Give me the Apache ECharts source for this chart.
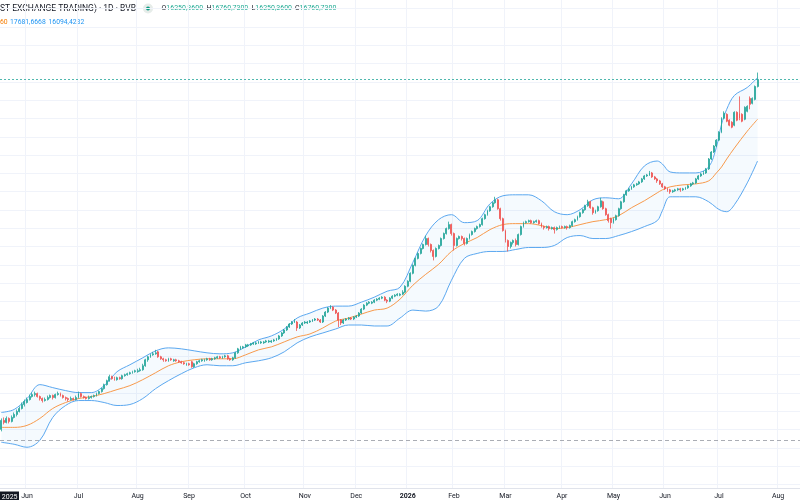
<!DOCTYPE html>
<html><head><meta charset="utf-8">
<script src="https://cdn.jsdelivr.net/npm/echarts@6/dist/echarts.min.js"></script>
<style>html,body{margin:0;padding:0;background:#fff}#c{width:800px;height:500px}</style>
</head><body><div id="c"></div>
<script>
// ---- categories (trading days, BVB) ----
const startDate = [2025, 4, 19];
const categoryCount = 311;
const holidays = ['2025-06-09','2025-08-15','2025-12-01','2025-12-25','2025-12-26','2026-01-01','2026-01-02','2026-01-06','2026-01-07','2026-04-10','2026-04-13','2026-05-01','2026-06-01'];
const monthNames = ['Jan','Feb','Mar','Apr','May','Jun','Jul','Aug','Sep','Oct','Nov','Dec'];

// ---- OHLC values ----
const openVals = [13240,13330,13310,13350,13320,13360,13390,13420,13450,13490,
13510,13540,13570,13590,13600,13570,13550,13530,13540,13560,
13580,13560,13590,13600,13580,13560,13550,13540,13550,13540,
13560,13600,13570,13560,13550,13560,13570,13580,13600,13620,
13650,13690,13730,13770,13750,13740,13760,13750,13780,13790,
13800,13810,13820,13820,13830,13840,13880,13940,13970,13990,
14000,14020,13970,13950,13940,13930,13950,13930,13940,13930,
13920,13910,13890,13900,13920,13870,13900,13920,13930,13930,
13940,13950,13940,13950,13960,13970,13960,13970,13980,13950,
13940,13960,14010,14050,14060,14070,14080,14090,14100,14100,
14110,14110,14110,14120,14120,14120,14130,14140,14150,14180,
14210,14240,14270,14300,14320,14320,14260,14290,14310,14310,
14320,14330,14340,14350,14340,14320,14380,14420,14460,14470,
14440,14410,14340,14310,14340,14350,14360,14350,14370,14380,
14410,14450,14490,14510,14510,14520,14540,14550,14560,14570,
14540,14530,14560,14580,14590,14590,14600,14620,14680,14730,
14810,14890,14960,15010,15060,15100,15160,15100,15040,14980,
15060,15090,15160,15210,15260,15300,15210,15090,15160,15180,
15160,15110,15160,15200,15230,15260,15280,15300,15360,15400,
15440,15480,15520,15550,15460,15360,15240,15140,15080,15120,
15140,15100,15200,15280,15320,15330,15340,15320,15330,15340,
15310,15280,15270,15280,15260,15270,15250,15270,15280,15270,
15280,15270,15290,15330,15350,15380,15420,15450,15490,15530,
15470,15420,15440,15480,15530,15460,15400,15360,15320,15350,
15390,15460,15530,15600,15640,15660,15680,15700,15710,15730,
15760,15790,15800,15820,15780,15760,15740,15710,15680,15660,
15650,15630,15640,15650,15660,15650,15660,15670,15690,15710,
15720,15760,15790,15810,15820,15860,15960,16030,16090,16150,
16230,16370,16410,16350,16330,16300,16430,16420,16410,16360,
16440,16570,16520,16560,16690];
const closeVals = [13330,13310,13350,13320,13360,13390,13420,13450,13490,13520,
13540,13570,13590,13600,13570,13550,13530,13540,13560,13580,
13560,13590,13600,13580,13560,13550,13540,13550,13540,13560,
13600,13570,13560,13550,13560,13570,13580,13600,13620,13650,
13690,13730,13770,13750,13740,13760,13750,13780,13790,13800,
13810,13820,13830,13830,13840,13880,13940,13970,13990,14000,
14010,13970,13950,13940,13930,13950,13940,13940,13930,13920,
13910,13900,13900,13890,13870,13900,13920,13930,13940,13940,
13950,13940,13950,13960,13970,13960,13970,13980,13950,13940,
13960,14010,14050,14070,14070,14090,14090,14100,14110,14110,
14120,14120,14120,14130,14130,14130,14140,14150,14180,14210,
14240,14270,14300,14320,14330,14260,14290,14310,14320,14320,
14330,14340,14350,14340,14320,14380,14420,14460,14470,14440,
14410,14340,14310,14340,14350,14360,14350,14370,14380,14410,
14450,14490,14510,14520,14520,14540,14550,14560,14570,14540,
14530,14560,14580,14590,14600,14600,14620,14680,14730,14810,
14890,14960,15010,15060,15100,15160,15100,15040,14980,15060,
15090,15160,15210,15260,15300,15210,15090,15160,15180,15160,
15110,15160,15200,15230,15260,15280,15300,15360,15400,15440,
15480,15520,15550,15460,15360,15240,15140,15080,15120,15140,
15100,15200,15280,15320,15330,15340,15320,15330,15340,15310,
15280,15270,15280,15260,15270,15250,15270,15280,15270,15280,
15270,15290,15330,15350,15380,15420,15450,15490,15530,15470,
15420,15440,15480,15540,15460,15400,15340,15320,15360,15390,
15460,15530,15600,15640,15660,15680,15700,15710,15730,15760,
15790,15800,15820,15780,15760,15740,15710,15680,15660,15650,
15630,15640,15650,15660,15650,15660,15670,15690,15710,15720,
15760,15790,15810,15820,15860,15960,16030,16090,16150,16230,
16370,16420,16340,16300,16280,16430,16350,16370,16340,16480,
16490,16510,16570,16690,16760.73];
const lowVals = [13220,13290,13300,13300,13310,13350,13370,13410,13440,13470,
13500,13530,13560,13570,13560,13530,13510,13520,13530,13550,
13540,13550,13580,13570,13550,13530,13520,13530,13530,13530,
13550,13560,13550,13540,13540,13550,13560,13570,13590,13610,
13640,13680,13720,13740,13730,13730,13740,13740,13770,13780,
13790,13800,13810,13810,13820,13830,13870,13920,13960,13980,
13990,13960,13940,13920,13920,13920,13930,13920,13920,13910,
13900,13890,13880,13880,13860,13860,13890,13910,13920,13920,
13930,13930,13930,13940,13950,13950,13950,13960,13940,13930,
13930,13950,14000,14040,14050,14060,14070,14080,14090,14090,
14100,14100,14100,14110,14110,14110,14120,14130,14140,14170,
14200,14230,14260,14290,14310,14230,14250,14280,14300,14300,
14310,14320,14330,14330,14310,14310,14370,14410,14450,14430,
14400,14270,14290,14300,14330,14340,14340,14340,14360,14370,
14400,14440,14480,14500,14500,14510,14530,14540,14550,14530,
14510,14520,14550,14570,14580,14580,14590,14610,14670,14720,
14800,14880,14950,15000,15050,15090,15080,15020,14940,14970,
15050,15080,15150,15200,15250,15190,15040,15080,15150,15140,
15090,15100,15150,15190,15220,15250,15270,15290,15350,15390,
15430,15470,15510,15450,15340,15230,15120,15030,15060,15100,
15080,15090,15190,15270,15310,15320,15310,15310,15320,15300,
15270,15250,15260,15240,15250,15210,15240,15260,15260,15260,
15250,15260,15280,15320,15340,15370,15410,15440,15480,15460,
15400,15410,15430,15470,15450,15390,15320,15260,15310,15340,
15380,15450,15520,15590,15630,15650,15670,15690,15700,15720,
15750,15780,15790,15770,15750,15720,15700,15670,15650,15630,
15610,15620,15630,15640,15630,15640,15650,15660,15680,15700,
15710,15750,15780,15800,15810,15850,15950,16020,16080,16140,
16220,16360,16330,16290,16270,16290,16340,16350,16330,16350,
16430,16460,16510,16550,16680];
const highVals = [13350,13360,13370,13360,13380,13410,13440,13470,13510,13540,
13560,13590,13610,13620,13610,13580,13560,13560,13580,13590,
13590,13600,13620,13610,13590,13570,13560,13570,13560,13580,
13620,13610,13580,13570,13580,13580,13590,13610,13630,13660,
13700,13740,13790,13780,13770,13770,13770,13790,13800,13810,
13820,13830,13840,13850,13860,13900,13950,13980,14000,14020,
14040,14030,13980,13960,13950,13960,13960,13950,13950,13940,
13930,13920,13910,13910,13930,13910,13930,13940,13950,13950,
13960,13960,13960,13970,13980,13980,13980,13990,13990,13960,
13970,14020,14060,14080,14080,14100,14100,14110,14120,14120,
14130,14130,14130,14140,14140,14140,14150,14160,14190,14220,
14250,14280,14310,14330,14350,14330,14300,14320,14330,14330,
14340,14350,14360,14360,14350,14390,14430,14470,14490,14480,
14450,14420,14350,14350,14360,14370,14370,14380,14390,14420,
14460,14500,14520,14530,14530,14550,14560,14570,14580,14580,
14550,14570,14590,14600,14610,14610,14640,14690,14740,14820,
14900,14970,15020,15070,15110,15190,15170,15110,15050,15070,
15100,15170,15220,15270,15330,15310,15220,15170,15190,15190,
15170,15170,15210,15240,15270,15290,15310,15370,15410,15450,
15490,15530,15580,15560,15470,15370,15250,15150,15130,15150,
15160,15210,15290,15330,15340,15350,15350,15340,15350,15350,
15320,15290,15290,15290,15280,15280,15280,15290,15290,15290,
15290,15300,15340,15360,15390,15430,15460,15500,15550,15540,
15480,15450,15490,15570,15540,15470,15410,15370,15370,15400,
15470,15540,15610,15650,15670,15690,15710,15720,15740,15770,
15800,15810,15840,15830,15790,15770,15750,15720,15690,15670,
15660,15650,15660,15670,15670,15670,15680,15700,15720,15730,
15770,15800,15820,15840,15870,15970,16040,16100,16160,16240,
16380,16440,16420,16360,16340,16440,16440,16590,16420,16490,
16500,16590,16580,16700,16830];

// ---- Bollinger band readings (sampled at candle indices) ----
const bandIdx = [0,5,10,15,20,25,30,35,40,45,50,55,60,65,70,75,80,85,90,95,100,105,110,115,120,125,130,135,140,145,150,155,160,165,170,175,180,185,190,195,200,205,210,215,220,225,230,235,240,245,250,255,257,260,265,270,275,278,280,282,285,290,294];
const bandUpper = [13410,13440,13550,13690,13660,13630,13610,13610,13680,13820,13890,13960,14030,14060,14050,14030,14010,14000,14010,14070,14140,14180,14250,14360,14410,14460,14480,14480,14520,14570,14630,14670,14920,15190,15350,15400,15320,15340,15510,15590,15600,15600,15540,15430,15400,15450,15550,15570,15560,15710,15890,15940,15910,15830,15820,15820,15880,16080,16310,16460,16600,16680,16780];
const bandBasis = [13260,13260,13280,13350,13450,13510,13550,13570,13600,13640,13680,13740,13810,13880,13920,13940,13950,13950,13950,13990,14040,14070,14120,14170,14200,14260,14330,14360,14400,14440,14460,14550,14690,14800,14900,15030,15110,15170,15250,15300,15310,15310,15290,15260,15270,15300,15330,15350,15390,15470,15540,15620,15650,15680,15700,15710,15740,15820,15880,15960,16070,16240,16360];
const bandLower = [13110,13090,13060,13130,13360,13480,13530,13530,13510,13480,13490,13550,13650,13730,13800,13860,13890,13880,13880,13910,13930,13960,14020,14110,14170,14210,14250,14290,14290,14280,14280,14360,14440,14430,14480,14740,14960,15010,15030,15030,15050,15070,15070,15090,15170,15190,15160,15160,15190,15230,15280,15340,15440,15580,15580,15580,15530,15470,15440,15430,15500,15720,15940];

// ---- header texts ----
const titleText = 'ST EXCHANGE TRADING) · 1D · BVB';
const ohlcLabels = ['O','H','L','C'];
const ohlcTexts = ['16250,3600','16760,7300','16250,3600','16760,7300'];
const bbTexts = ['60','17681,6668','16094,4232'];
const lastPrice = 16760.73;
const refLine = 13130;

// ---- build categories ----
const dates = [];
(function(){
  const d = new Date(Date.UTC(startDate[0], startDate[1], startDate[2]));
  while (dates.length < categoryCount) {
    const dow = d.getUTCDay();
    const s = d.toISOString().slice(0,10);
    if (dow !== 0 && dow !== 6 && holidays.indexOf(s) < 0) dates.push(s);
    d.setUTCDate(d.getUTCDate() + 1);
  }
})();
const isMonthStart = dates.map((s,i) => i > 0 && s.slice(5,7) !== dates[i-1].slice(5,7));

const candleData = openVals.map((o,i) => [o, closeVals[i], lowVals[i], highVals[i]]);
const pairs = arr => bandIdx.map((x,k) => [x, arr[k]]);
const widthVals = bandUpper.map((u,k) => u - bandLower[k]);

const FONT = 'Roboto, "Noto Sans", sans-serif';
const GREEN = '#26a69a', RED = '#ef5350';

const chart = echarts.init(document.getElementById('c'), null, {renderer: 'canvas'});
const smoothK = 0.35;
chart.setOption({
  animation: false,
  backgroundColor: '#ffffff',
  grid: [
    {left: 0, right: 0, top: 0, bottom: 9},
    {left: 0, right: 0, top: 8.7, bottom: 15.5}
  ],
  xAxis: [
    {type: 'category', data: dates, gridIndex: 0, boundaryGap: true,
     axisLine: {show: true, lineStyle: {color: '#e0e3eb', width: 1}},
     axisTick: {show: false},
     axisLabel: {
       interval: (idx) => isMonthStart[idx],
       margin: 5, fontSize: 7, color: '#131722', fontFamily: FONT,
       formatter: (v) => {
         const m = parseInt(v.slice(5,7), 10) - 1;
         return m === 0 ? '{y|' + v.slice(0,4) + '}' : monthNames[m];
       },
       rich: {y: {fontWeight: 'bold', fontSize: 7, color: '#131722', fontFamily: FONT}}
     },
     splitLine: {show: true, interval: (idx) => isMonthStart[idx], lineStyle: {color: '#f0f3fa', width: 1}}
    },
    {type: 'category', gridIndex: 1, data: ['a'], show: false}
  ],
  yAxis: [
    {type: 'value', gridIndex: 0, min: 12650, max: 17560, axisLine: {show: false}, axisLabel: {show: false}, axisTick: {show: false}, splitLine: {show: false}},
    {type: 'value', gridIndex: 1, min: 0, max: 26, interval: 1, axisLine: {show: false}, axisLabel: {show: false}, axisTick: {show: false},
     splitLine: {show: true, lineStyle: {color: '#f0f3fa', width: 1}}}
  ],
  series: [
    {type: 'line', name: 'lowerBase', data: pairs(bandLower), stack: 'bb', smooth: smoothK, symbol: 'none',
     lineStyle: {width: 0, opacity: 0}, silent: true, z: 1},
    {type: 'line', name: 'bandFill', data: pairs(widthVals), stack: 'bb', smooth: smoothK, symbol: 'none',
     lineStyle: {width: 0, opacity: 0}, areaStyle: {color: 'rgba(33,150,243,0.06)'}, silent: true, z: 1},
    {type: 'line', name: 'upper', data: pairs(bandUpper), smooth: smoothK, symbol: 'none',
     lineStyle: {width: 1, color: '#5ba8f0'}, silent: true, z: 2},
    {type: 'line', name: 'lower', data: pairs(bandLower), smooth: smoothK, symbol: 'none',
     lineStyle: {width: 1, color: '#5ba8f0'}, silent: true, z: 2},
    {type: 'line', name: 'basis', data: pairs(bandBasis), smooth: smoothK, symbol: 'none',
     lineStyle: {width: 1, color: '#f89a4c'}, silent: true, z: 2},
    {type: 'candlestick', name: 'price', data: candleData, barWidth: 1.4, z: 3,
     itemStyle: {color: GREEN, color0: RED, borderColor: GREEN, borderColor0: RED, borderWidth: 0.8},
     markLine: {symbol: 'none', silent: true, label: {show: false}, animation: false,
       data: [
         {yAxis: lastPrice, lineStyle: {color: '#26a69a', type: [2,2], width: 1, opacity: 0.8}},
         {yAxis: refLine, lineStyle: {color: '#9598a1', type: [4,3], width: 1, opacity: 0.8}}
       ]}
    }
  ],
  graphic: [
    {type: 'text', x: 0, y: 4, style: {text: titleText, fontSize: 8.5, fontFamily: FONT, fill: '#131722'}},
    {type: 'circle', shape: {cx: 148, cy: 8.5, r: 5}, style: {fill: '#e6ece9'}},
    {type: 'circle', shape: {cx: 148, cy: 8.5, r: 2}, style: {fill: '#089981'}},
    ...ohlcLabels.map((k, j) => ({type: 'text', x: [161.5, 206.5, 251.5, 295][j], y: 5,
      style: {text: '{k|' + k + '}{v|' + ohlcTexts[j] + '}', fontSize: 7, fontFamily: FONT,
        rich: {k: {fill: '#131722', fontSize: 7, fontFamily: FONT}, v: {fill: '#22ab94', fontSize: 7, fontFamily: FONT}}}})),
    {type: 'text', x: 0, y: 19, style: {text: bbTexts[0], fontSize: 6.8, fontFamily: FONT, fill: '#f57c00'}},
    {type: 'text', x: 10, y: 19, style: {text: bbTexts[1], fontSize: 6.8, fontFamily: FONT, fill: '#2196f3'}},
    {type: 'text', x: 48.5, y: 19, style: {text: bbTexts[2], fontSize: 6.8, fontFamily: FONT, fill: '#2196f3'}},
    {type: 'rect', shape: {x: 0, y: 491.5, width: 19, height: 9}, style: {fill: '#131722'}},
    {type: 'text', x: 17.5, y: 497, style: {text: '2025', fontSize: 7, fontFamily: FONT, fill: '#ffffff', align: 'right', verticalAlign: 'middle'}}
  ]
});
</script>
</body></html>
